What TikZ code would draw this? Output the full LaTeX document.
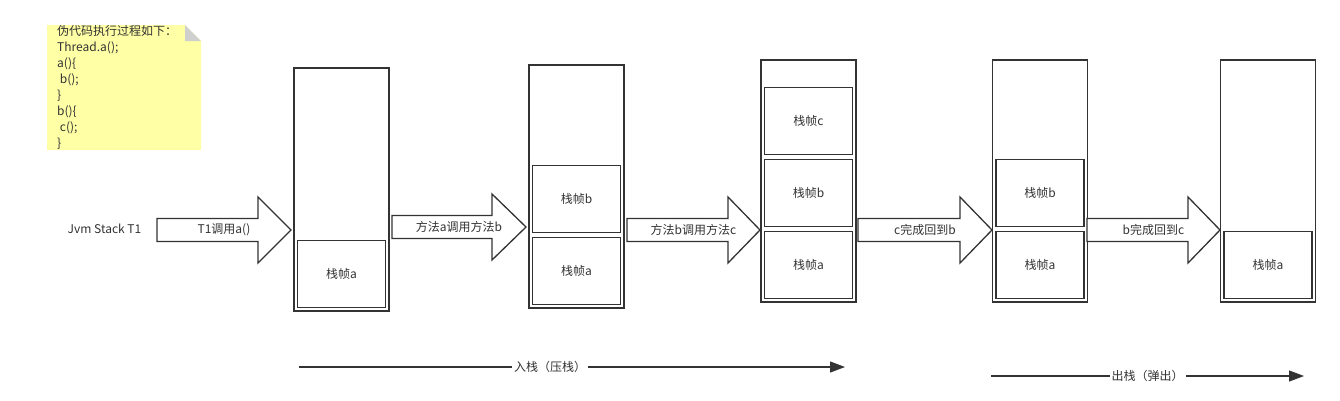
\documentclass[tikz,border=0pt]{standalone}
\usepackage{fontspec}
\setmainfont{Noto Sans CJK SC}
\usepackage{xcolor}
\usetikzlibrary{arrows.meta,positioning}
\definecolor{ink}{HTML}{333333}
\definecolor{notey}{HTML}{FFFFA5}
\definecolor{fold}{HTML}{CFCFCF}
\newcommand{\blockarrow}[6]{%
  \draw[blk] ({#2},{#5-11.5}) -- ({#3},{#5-11.5}) -- ({#3},{#5-33}) -- ({#4},{#5})
    -- ({#3},{#5+33}) -- ({#3},{#5+11.5}) -- ({#2},{#5+11.5}) -- cycle;
  \node[lbl] (#1) at ({(#2+#4)/2},{#5}) {#6};}
\tikzset{
  stackbox/.style={draw=ink,line width=1.5pt,minimum width=95pt,minimum height=243pt,inner sep=0pt},
  framebox/.style={draw=ink,line width=1.5pt,minimum width=88pt,minimum height=67pt,inner sep=0pt,font=\fontsize{12pt}{14pt}\selectfont,text=ink},
  blk/.style={draw=ink,line width=1.3pt,fill=white},
  lbl/.style={font=\fontsize{12pt}{14pt}\selectfont,text=ink,inner sep=1pt},
  flow/.style={draw=ink,line width=1.2pt,-{Triangle[length=15pt,width=11pt]}},
  flowlbl/.style={lbl,fill=white,inner sep=2pt},
}
\begin{document}
\begin{tikzpicture}[x=1pt,y=-1pt,node distance=3.5pt]
\useasboundingbox (0,0) rectangle (1340,400);
% note
\fill[notey] (47,25) -- (185,25) -- (201,41) -- (201,150) -- (47,150) -- cycle;
\fill[fold] (185,25) -- (185,41) -- (201,41) -- cycle;
\node[lbl,anchor=north west,align=left,font=\fontsize{12pt}{16pt}\selectfont,inner sep=0pt] (code) at (57,25)
  {伪代码执行过程如下：\\Thread.a();\\a()\{\\\ b();\\\}\\b()\{\\\ c();\\\}};
\node[lbl] (jvm) at (104.5,229) {Jvm Stack T1};
% stacks
\node[stackbox] (s1) at (341.5,189.5) {};
\node[stackbox] (s2) at (576.5,186.5) {};
\node[stackbox,minimum height=242pt] (s3) at (808.5,181) {};
\node[stackbox,minimum height=242pt] (s4) at (1040,181) {};
\node[stackbox,minimum height=242pt] (s5) at (1268,181) {};
\node[framebox,above=of s1.south] (a1) {栈帧a};
\node[framebox,above=of s2.south] (a2) {栈帧a};
\node[framebox,above=of a2] (b2) {栈帧b};
\node[framebox,above=of s3.south] (a3) {栈帧a};
\node[framebox,above=of a3] (b3) {栈帧b};
\node[framebox,above=of b3] (c3) {栈帧c};
\node[framebox,above=of s4.south] (a4) {栈帧a};
\node[framebox,above=of a4] (b4) {栈帧b};
\node[framebox,above=of s5.south] (a5) {栈帧a};
% big arrows
\blockarrow{call1}{157}{258}{291}{230}{T1调用a()}
\blockarrow{call2}{392}{492}{526}{227}{方法a调用方法b}
\blockarrow{call3}{627}{728}{760}{230}{方法b调用方法c}
\blockarrow{ret1}{858}{960}{992}{230}{c完成回到b}
\blockarrow{ret2}{1087}{1188}{1220}{230}{b完成回到c}
% push / pop
\coordinate (push0) at (299,367);
\coordinate (push1) at (845,367);
\coordinate (pop0) at (991,376);
\coordinate (pop1) at (1304,376);
\draw[flow] (push0) -- node[flowlbl,pos=0.46] (pushlbl) {入栈（压栈）} (push1);
\draw[flow] (pop0) -- node[flowlbl] (poplbl) {出栈（弹出）} (pop1);
\end{tikzpicture}
\end{document}
